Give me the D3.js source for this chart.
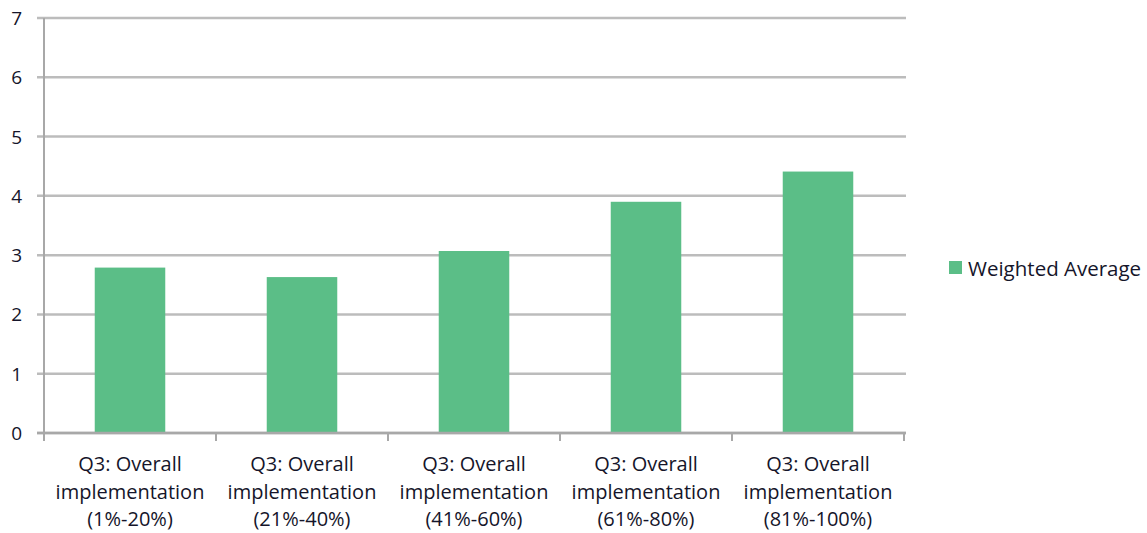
<!DOCTYPE html>
<html><head><meta charset="utf-8">
<script src="https://cdn.jsdelivr.net/npm/d3@7"></script>
<style>body{margin:0;background:#fff}svg{display:block}text{font-family:"Open Sans",sans-serif;fill:#15152a}</style>
</head><body><svg id="c" width="1147" height="533"></svg>
<script>
const categories = [
  ["Q3: Overall","implementation","(1%-20%)"],
  ["Q3: Overall","implementation","(21%-40%)"],
  ["Q3: Overall","implementation","(41%-60%)"],
  ["Q3: Overall","implementation","(61%-80%)"],
  ["Q3: Overall","implementation","(81%-100%)"]
];
const seriesName = "Weighted Average";
const values = [2.79, 2.63, 3.07, 3.90, 4.41];
const yTicks = [0,1,2,3,4,5,6,7];

(function(){
const svg = d3.select("#c");
const pl = 44, pr = 904, pt = 18, pb = 433;
const x = d3.scaleBand().domain(d3.range(categories.length)).range([pl, pr]).paddingInner(0.59).paddingOuter(0.295);
const xb = d3.scaleBand().domain(d3.range(categories.length)).range([pl, pr]);
const y = d3.scaleLinear().domain([0,7]).range([pb, pt]);

// gridlines
svg.append("g").selectAll("line").data(yTicks).join("line")
  .attr("x1", pl-7).attr("x2", pr+2)
  .attr("y1", d=>y(d)).attr("y2", d=>y(d))
  .attr("stroke", "#bcbcbc").attr("stroke-width", 2.5);

// y axis line
svg.append("line").attr("x1", pl).attr("x2", pl).attr("y1", pt).attr("y2", pb)
  .attr("stroke", "#a8a8a8").attr("stroke-width", 2);

// y labels
svg.append("g").selectAll("text").data(yTicks).join("text")
  .attr("x", 22).attr("y", d=>y(d)+7).attr("text-anchor","end")
  .style("font-size","19px").style("font-weight","500").text(d=>d);

// bars
svg.append("g").selectAll("rect").data(values).join("rect")
  .attr("x", (d,i)=>x(i)).attr("width", x.bandwidth())
  .attr("y", d=>y(d)).attr("height", d=>y(0)-y(d))
  .attr("fill", "#5bbe87");

// x axis
svg.append("line").attr("x1", pl-7).attr("x2", pr+2).attr("y1", pb).attr("y2", pb)
  .attr("stroke", "#a8a8a8").attr("stroke-width", 2.5);
const bounds = d3.range(categories.length+1).map(i => i < categories.length ? xb(i) : pr);
svg.append("g").selectAll("line").data(bounds).join("line")
  .attr("x1", d=>d).attr("x2", d=>d).attr("y1", pb).attr("y2", pb+8)
  .attr("stroke", "#a8a8a8").attr("stroke-width", 2);

// x labels
const lab = svg.append("g").selectAll("text").data(categories).join("text")
  .attr("text-anchor","middle").style("font-size","20px").style("font-weight","500");
lab.each(function(lines,i){
  const t = d3.select(this);
  lines.forEach((s,j)=>{
    t.append("tspan").attr("x", xb(i)+xb.bandwidth()/2).attr("y", 471 + j*27.7).text(s);
  });
});

// legend
svg.append("rect").attr("x", 949).attr("y", 261).attr("width", 13).attr("height", 13).attr("fill", "#5bbe87");
svg.append("text").attr("x", 968).attr("y", 276).style("font-size","20.5px").style("font-weight","500").text(seriesName);
})();
</script></body></html>
